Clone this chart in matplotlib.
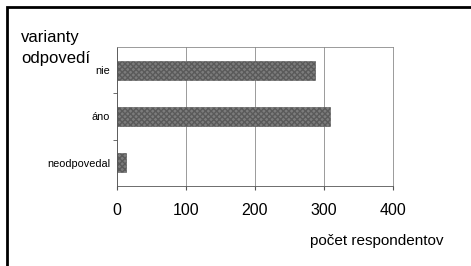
import matplotlib.pyplot as plt
from matplotlib.patches import Rectangle

plt.rcParams['font.family'] = ['Liberation Sans', 'DejaVu Sans']

# answer categories, top to bottom
categories = ['nie', 'áno', 'neodpovedal']
counts = [287, 309, 13]
x_ticks = [0, 100, 200, 300, 400]

fig = plt.figure(figsize=(4.71, 2.66), dpi=100)
fig.patch.set_facecolor('white')

# outer frame of the scanned picture
fig.patches.append(Rectangle((7/471, -0.1), 1.2, 1 - 7/266 + 0.1,
                             transform=fig.transFigure, fill=False,
                             edgecolor='black', linewidth=2.0))

ax = fig.add_axes([117/471, 1 - 186/266, (393 - 117)/471, (186 - 47)/266])

pos = list(range(len(categories)))
ax.barh(pos, counts, height=0.41, color='#7c7c7c', edgecolor='#5a5a5a',
        hatch='xxxxxx', linewidth=0.4)

ax.set_xlim(0, 400)
ax.set_ylim(2.5, -0.5)
ax.set_xticks(x_ticks)
ax.set_xticklabels([str(t) for t in x_ticks], fontsize=11.5)
ax.tick_params(axis='x', length=3, pad=9, color='#555555')

ax.set_yticks(pos)
ax.set_yticklabels(categories, fontsize=7.8)
ax.tick_params(axis='y', which='major', length=0, pad=5)
ax.set_yticks([0.5, 1.5], minor=True)
ax.tick_params(axis='y', which='minor', length=3, color='#555555')

ax.grid(axis='x', color='#8a8a8a', linewidth=0.6)
ax.set_axisbelow(True)
for s in ax.spines.values():
    s.set_color('#8a8a8a')
    s.set_linewidth(0.6)
ax.spines['left'].set_color('#555555')
ax.spines['bottom'].set_color('#555555')

fig.text(21/471, 1 - 48/266, 'varianty\nodpovedí', fontsize=12,
         ha='left', va='center', linespacing=1.5)
fig.text(443/471, 1 - 241/266, 'počet respondentov', fontsize=11,
         ha='right', va='center')

fig.savefig('out.png', dpi=100, facecolor='white')
